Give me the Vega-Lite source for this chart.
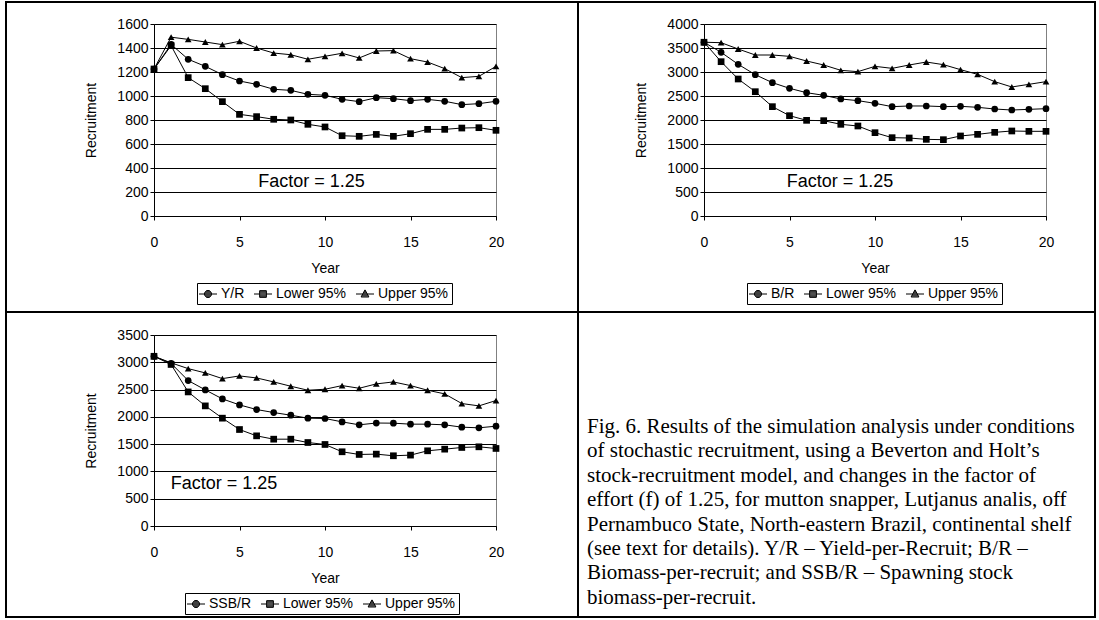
{
  "$schema": "https://vega.github.io/schema/vega-lite/v6.json",
  "padding": {"left": 5, "top": 1, "right": 0, "bottom": 0},
  "background": "white",
  "config": {
    "view": {"stroke": null},
    "font": "Liberation Sans",
    "axis": {"labelFont": "Liberation Sans", "labelFontSize": 14, "labelColor": "black", "titleFont": "Liberation Sans", "titleFontSize": 14, "titleFontWeight": "normal", "titleColor": "black", "domainColor": "black", "tickColor": "black", "gridColor": "black", "gridOpacity": 1, "tickSize": 4},
    "legend": {"title": null, "orient": "none", "direction": "horizontal", "symbolSize": 225, "symbolStrokeWidth": 1, "symbolFillColor": "black", "symbolStrokeColor": "black", "symbolOpacity": 1, "labelFontSize": 14, "labelFont": "Liberation Sans", "labelColor": "black", "strokeColor": "black", "fillColor": "white", "padding": 3, "columnPadding": 7, "labelOffset": 5}
  },
  "datasets": {
    "yr": [
      {"year":0,"series":"Y/R","value":1225},{"year":0,"series":"Lower 95%","value":1225},{"year":0,"series":"Upper 95%","value":1225},
      {"year":1,"series":"Y/R","value":1430},{"year":1,"series":"Lower 95%","value":1420},{"year":1,"series":"Upper 95%","value":1490},
      {"year":2,"series":"Y/R","value":1306},{"year":2,"series":"Lower 95%","value":1153},{"year":2,"series":"Upper 95%","value":1472},
      {"year":3,"series":"Y/R","value":1247},{"year":3,"series":"Lower 95%","value":1061},{"year":3,"series":"Upper 95%","value":1450},
      {"year":4,"series":"Y/R","value":1178},{"year":4,"series":"Lower 95%","value":953},{"year":4,"series":"Upper 95%","value":1428},
      {"year":5,"series":"Y/R","value":1125},{"year":5,"series":"Lower 95%","value":847},{"year":5,"series":"Upper 95%","value":1456},
      {"year":6,"series":"Y/R","value":1097},{"year":6,"series":"Lower 95%","value":828},{"year":6,"series":"Upper 95%","value":1400},
      {"year":7,"series":"Y/R","value":1056},{"year":7,"series":"Lower 95%","value":806},{"year":7,"series":"Upper 95%","value":1358},
      {"year":8,"series":"Y/R","value":1047},{"year":8,"series":"Lower 95%","value":800},{"year":8,"series":"Upper 95%","value":1344},
      {"year":9,"series":"Y/R","value":1014},{"year":9,"series":"Lower 95%","value":764},{"year":9,"series":"Upper 95%","value":1306},
      {"year":10,"series":"Y/R","value":1006},{"year":10,"series":"Lower 95%","value":742},{"year":10,"series":"Upper 95%","value":1331},
      {"year":11,"series":"Y/R","value":972},{"year":11,"series":"Lower 95%","value":669},{"year":11,"series":"Upper 95%","value":1356},
      {"year":12,"series":"Y/R","value":953},{"year":12,"series":"Lower 95%","value":664},{"year":12,"series":"Upper 95%","value":1317},
      {"year":13,"series":"Y/R","value":986},{"year":13,"series":"Lower 95%","value":680},{"year":13,"series":"Upper 95%","value":1375},
      {"year":14,"series":"Y/R","value":978},{"year":14,"series":"Lower 95%","value":664},{"year":14,"series":"Upper 95%","value":1378},
      {"year":15,"series":"Y/R","value":961},{"year":15,"series":"Lower 95%","value":686},{"year":15,"series":"Upper 95%","value":1311},
      {"year":16,"series":"Y/R","value":972},{"year":16,"series":"Lower 95%","value":722},{"year":16,"series":"Upper 95%","value":1283},
      {"year":17,"series":"Y/R","value":956},{"year":17,"series":"Lower 95%","value":722},{"year":17,"series":"Upper 95%","value":1228},
      {"year":18,"series":"Y/R","value":928},{"year":18,"series":"Lower 95%","value":733},{"year":18,"series":"Upper 95%","value":1153},
      {"year":19,"series":"Y/R","value":936},{"year":19,"series":"Lower 95%","value":736},{"year":19,"series":"Upper 95%","value":1164},
      {"year":20,"series":"Y/R","value":956},{"year":20,"series":"Lower 95%","value":714},{"year":20,"series":"Upper 95%","value":1247}
    ],
    "br": [
      {"year":0,"series":"B/R","value":3620},{"year":0,"series":"Lower 95%","value":3620},{"year":0,"series":"Upper 95%","value":3620},
      {"year":1,"series":"B/R","value":3410},{"year":1,"series":"Lower 95%","value":3215},{"year":1,"series":"Upper 95%","value":3611},
      {"year":2,"series":"B/R","value":3160},{"year":2,"series":"Lower 95%","value":2854},{"year":2,"series":"Upper 95%","value":3479},
      {"year":3,"series":"B/R","value":2944},{"year":3,"series":"Lower 95%","value":2590},{"year":3,"series":"Upper 95%","value":3354},
      {"year":4,"series":"B/R","value":2778},{"year":4,"series":"Lower 95%","value":2278},{"year":4,"series":"Upper 95%","value":3354},
      {"year":5,"series":"B/R","value":2660},{"year":5,"series":"Lower 95%","value":2090},{"year":5,"series":"Upper 95%","value":3326},
      {"year":6,"series":"B/R","value":2569},{"year":6,"series":"Lower 95%","value":1993},{"year":6,"series":"Upper 95%","value":3229},
      {"year":7,"series":"B/R","value":2514},{"year":7,"series":"Lower 95%","value":1986},{"year":7,"series":"Upper 95%","value":3146},
      {"year":8,"series":"B/R","value":2438},{"year":8,"series":"Lower 95%","value":1910},{"year":8,"series":"Upper 95%","value":3035},
      {"year":9,"series":"B/R","value":2403},{"year":9,"series":"Lower 95%","value":1875},{"year":9,"series":"Upper 95%","value":3007},
      {"year":10,"series":"B/R","value":2347},{"year":10,"series":"Lower 95%","value":1736},{"year":10,"series":"Upper 95%","value":3118},
      {"year":11,"series":"B/R","value":2278},{"year":11,"series":"Lower 95%","value":1632},{"year":11,"series":"Upper 95%","value":3076},
      {"year":12,"series":"B/R","value":2292},{"year":12,"series":"Lower 95%","value":1625},{"year":12,"series":"Upper 95%","value":3146},
      {"year":13,"series":"B/R","value":2292},{"year":13,"series":"Lower 95%","value":1597},{"year":13,"series":"Upper 95%","value":3208},
      {"year":14,"series":"B/R","value":2278},{"year":14,"series":"Lower 95%","value":1590},{"year":14,"series":"Upper 95%","value":3153},
      {"year":15,"series":"B/R","value":2285},{"year":15,"series":"Lower 95%","value":1667},{"year":15,"series":"Upper 95%","value":3049},
      {"year":16,"series":"B/R","value":2264},{"year":16,"series":"Lower 95%","value":1701},{"year":16,"series":"Upper 95%","value":2951},
      {"year":17,"series":"B/R","value":2229},{"year":17,"series":"Lower 95%","value":1743},{"year":17,"series":"Upper 95%","value":2799},
      {"year":18,"series":"B/R","value":2208},{"year":18,"series":"Lower 95%","value":1771},{"year":18,"series":"Upper 95%","value":2688},
      {"year":19,"series":"B/R","value":2222},{"year":19,"series":"Lower 95%","value":1764},{"year":19,"series":"Upper 95%","value":2743},
      {"year":20,"series":"B/R","value":2236},{"year":20,"series":"Lower 95%","value":1764},{"year":20,"series":"Upper 95%","value":2799}
    ],
    "ssb": [
      {"year":0,"series":"SSB/R","value":3110},{"year":0,"series":"Lower 95%","value":3110},{"year":0,"series":"Upper 95%","value":3110},
      {"year":1,"series":"SSB/R","value":2980},{"year":1,"series":"Lower 95%","value":2960},{"year":1,"series":"Upper 95%","value":2990},
      {"year":2,"series":"SSB/R","value":2665},{"year":2,"series":"Lower 95%","value":2457},{"year":2,"series":"Upper 95%","value":2884},
      {"year":3,"series":"SSB/R","value":2494},{"year":3,"series":"Lower 95%","value":2201},{"year":3,"series":"Upper 95%","value":2805},
      {"year":4,"series":"SSB/R","value":2329},{"year":4,"series":"Lower 95%","value":1976},{"year":4,"series":"Upper 95%","value":2701},
      {"year":5,"series":"SSB/R","value":2219},{"year":5,"series":"Lower 95%","value":1768},{"year":5,"series":"Upper 95%","value":2750},
      {"year":6,"series":"SSB/R","value":2134},{"year":6,"series":"Lower 95%","value":1652},{"year":6,"series":"Upper 95%","value":2713},
      {"year":7,"series":"SSB/R","value":2079},{"year":7,"series":"Lower 95%","value":1591},{"year":7,"series":"Upper 95%","value":2640},
      {"year":8,"series":"SSB/R","value":2030},{"year":8,"series":"Lower 95%","value":1591},{"year":8,"series":"Upper 95%","value":2561},
      {"year":9,"series":"SSB/R","value":1976},{"year":9,"series":"Lower 95%","value":1530},{"year":9,"series":"Upper 95%","value":2488},
      {"year":10,"series":"SSB/R","value":1970},{"year":10,"series":"Lower 95%","value":1494},{"year":10,"series":"Upper 95%","value":2506},
      {"year":11,"series":"SSB/R","value":1908},{"year":11,"series":"Lower 95%","value":1360},{"year":11,"series":"Upper 95%","value":2573},
      {"year":12,"series":"SSB/R","value":1854},{"year":12,"series":"Lower 95%","value":1311},{"year":12,"series":"Upper 95%","value":2524},
      {"year":13,"series":"SSB/R","value":1887},{"year":13,"series":"Lower 95%","value":1317},{"year":13,"series":"Upper 95%","value":2604},
      {"year":14,"series":"SSB/R","value":1884},{"year":14,"series":"Lower 95%","value":1287},{"year":14,"series":"Upper 95%","value":2640},
      {"year":15,"series":"SSB/R","value":1866},{"year":15,"series":"Lower 95%","value":1299},{"year":15,"series":"Upper 95%","value":2573},
      {"year":16,"series":"SSB/R","value":1866},{"year":16,"series":"Lower 95%","value":1378},{"year":16,"series":"Upper 95%","value":2488},
      {"year":17,"series":"SSB/R","value":1854},{"year":17,"series":"Lower 95%","value":1408},{"year":17,"series":"Upper 95%","value":2421},
      {"year":18,"series":"SSB/R","value":1811},{"year":18,"series":"Lower 95%","value":1439},{"year":18,"series":"Upper 95%","value":2244},
      {"year":19,"series":"SSB/R","value":1799},{"year":19,"series":"Lower 95%","value":1451},{"year":19,"series":"Upper 95%","value":2201},
      {"year":20,"series":"SSB/R","value":1829},{"year":20,"series":"Lower 95%","value":1421},{"year":20,"series":"Upper 95%","value":2299}
    ],
    "caption": [
      {"line":1,"pos":0,"text":"Fig. 6. Results of the simulation analysis under conditions"},
      {"line":2,"pos":0,"text":"of stochastic recruitment, using a Beverton and Holt’s"},
      {"line":3,"pos":0,"text":"stock-recruitment model, and changes in the factor of"},
      {"line":4,"pos":0,"text":"effort (f) of 1.25, for mutton snapper, Lutjanus analis, off"},
      {"line":5,"pos":0,"text":"Pernambuco State, North-eastern Brazil, continental shelf"},
      {"line":6,"pos":0,"text":"(see text for details). Y/R – Yield-per-Recruit; B/R –"},
      {"line":7,"pos":0,"text":"Biomass-per-recruit; and SSB/R – Spawning stock"},
      {"line":8,"pos":0,"text":"biomass-per-recruit."}
    ]
  },
  "data": {"values": []},
  "columns": 10,
  "spacing": 0,
  "bounds": "flush",
  "align": "each",
  "concat": [
    {"width": 2, "height": 2, "mark": "point", "view": {"fill": "black"}},
    {"width": 147, "height": 2, "mark": "point", "view": {"fill": "black"}},
    {"width": 342, "height": 2, "mark": "point", "view": {"fill": "black"}},
    {"width": 81, "height": 2, "mark": "point", "view": {"fill": "black"}},
    {"width": 2, "height": 2, "mark": "point", "view": {"fill": "black"}},
    {"width": 8, "height": 2, "mark": "point", "view": {"fill": "black"}},
    {"width": 117, "height": 2, "mark": "point", "view": {"fill": "black"}},
    {"width": 342, "height": 2, "mark": "point", "view": {"fill": "black"}},
    {"width": 48, "height": 2, "mark": "point", "view": {"fill": "black"}},
    {"width": 2, "height": 2, "mark": "point", "view": {"fill": "black"}},

    {"width": 2, "height": 21, "mark": "point", "view": {"fill": "black"}},
    {"width": 147, "height": 1, "mark": "point"},
    {"width": 342, "height": 1, "mark": "point"},
    {"width": 81, "height": 1, "mark": "point"},
    {"width": 2, "height": 21, "mark": "point", "view": {"fill": "black"}},
    {"width": 8, "height": 1, "mark": "point"},
    {"width": 117, "height": 1, "mark": "point"},
    {"width": 342, "height": 1, "mark": "point"},
    {"width": 48, "height": 1, "mark": "point"},
    {"width": 2, "height": 21, "mark": "point", "view": {"fill": "black"}},

    {"width": 2, "height": 192, "mark": "point", "view": {"fill": "black"}},
    {"width": 147, "height": 1, "mark": "point"},
    {
      "width": 342, "height": 192,
      "view": {"stroke": "#808080"},
      "data": {"name": "yr"},
      "encoding": {
        "x": {"field": "year", "type": "quantitative", "scale": {"domain": [0, 20], "nice": false, "zero": false}, "axis": {"values": [0, 5, 10, 15, 20], "title": "Year", "grid": false, "labelFlush": false, "labelPadding": 15, "titlePadding": 12}},
        "y": {"field": "value", "type": "quantitative", "scale": {"domain": [0, 1600], "nice": false}, "axis": {"values": [0, 200, 400, 600, 800, 1000, 1200, 1400, 1600], "format": "d", "title": "Recruitment", "grid": true, "labelPadding": 2, "titlePadding": 18}}
      },
      "layer": [
        {"mark": {"type": "line", "color": "black", "strokeWidth": 1}, "encoding": {"detail": {"field": "series"}}},
        {"mark": {"type": "point", "filled": true, "color": "black", "size": 45, "opacity": 1}, "encoding": {"shape": {"field": "series", "type": "nominal", "scale": {"domain": ["Y/R", "Lower 95%", "Upper 95%"], "range": ["circle", "square", "triangle-up"]}, "legend": null}}},
        {"mark": {"type": "point", "filled": false, "color": "black", "strokeWidth": 1, "opacity": 0}, "encoding": {"shape": {"field": "series", "type": "nominal", "scale": {"domain": ["Y/R", "Lower 95%", "Upper 95%"], "range": ["M-1.2,0H1.2M0.467,0A0.467,0.467,0,1,1,-0.467,0A0.467,0.467,0,1,1,0.467,0M-0.241,-0.4H0.241M-0.383,-0.267H0.383M-0.448,-0.133H0.448M-0.448,0.133H0.448M-0.383,0.267H0.383M-0.241,0.4H0.241", "M-1.2,0H1.2M-0.45,-0.45H0.45V0.45H-0.45ZM-0.45,-0.3H0.45M-0.45,-0.15H0.45M-0.45,0.15H0.45M-0.45,0.3H0.45", "M-1.2,0H1.2M0,-0.55L0.52,0.4H-0.52ZM-0.082,-0.4H0.082M-0.155,-0.267H0.155M-0.228,-0.133H0.228M-0.374,0.133H0.374M-0.447,0.267H0.447"]}, "legend": {"orient": "none", "legendX": 43, "legendY": 259}}}},
        {"data": {"values": [{"year": 6.1, "value": 283, "label": "Factor = 1.25"}]}, "mark": {"type": "text", "align": "left", "baseline": "middle", "fontSize": 18, "color": "black", "font": "Liberation Sans"}, "encoding": {"text": {"field": "label"}}}
      ],
      "resolve": {"scale": {"shape": "independent"}}
    },
    {"width": 81, "height": 1, "mark": "point"},
    {"width": 2, "height": 192, "mark": "point", "view": {"fill": "black"}},
    {"width": 8, "height": 1, "mark": "point"},
    {"width": 117, "height": 1, "mark": "point"},
    {
      "width": 342, "height": 192,
      "view": {"stroke": "#808080"},
      "data": {"name": "br"},
      "encoding": {
        "x": {"field": "year", "type": "quantitative", "scale": {"domain": [0, 20], "nice": false, "zero": false}, "axis": {"values": [0, 5, 10, 15, 20], "title": "Year", "grid": false, "labelFlush": false, "labelPadding": 15, "titlePadding": 12}},
        "y": {"field": "value", "type": "quantitative", "scale": {"domain": [0, 4000], "nice": false}, "axis": {"values": [0, 500, 1000, 1500, 2000, 2500, 3000, 3500, 4000], "format": "d", "title": "Recruitment", "grid": true, "labelPadding": 2, "titlePadding": 18}}
      },
      "layer": [
        {"mark": {"type": "line", "color": "black", "strokeWidth": 1}, "encoding": {"detail": {"field": "series"}}},
        {"mark": {"type": "point", "filled": true, "color": "black", "size": 45, "opacity": 1}, "encoding": {"shape": {"field": "series", "type": "nominal", "scale": {"domain": ["B/R", "Lower 95%", "Upper 95%"], "range": ["circle", "square", "triangle-up"]}, "legend": null}}},
        {"mark": {"type": "point", "filled": false, "color": "black", "strokeWidth": 1, "opacity": 0}, "encoding": {"shape": {"field": "series", "type": "nominal", "scale": {"domain": ["B/R", "Lower 95%", "Upper 95%"], "range": ["M-1.2,0H1.2M0.467,0A0.467,0.467,0,1,1,-0.467,0A0.467,0.467,0,1,1,0.467,0M-0.241,-0.4H0.241M-0.383,-0.267H0.383M-0.448,-0.133H0.448M-0.448,0.133H0.448M-0.383,0.267H0.383M-0.241,0.4H0.241", "M-1.2,0H1.2M-0.45,-0.45H0.45V0.45H-0.45ZM-0.45,-0.3H0.45M-0.45,-0.15H0.45M-0.45,0.15H0.45M-0.45,0.3H0.45", "M-1.2,0H1.2M0,-0.55L0.52,0.4H-0.52ZM-0.082,-0.4H0.082M-0.155,-0.267H0.155M-0.228,-0.133H0.228M-0.374,0.133H0.374M-0.447,0.267H0.447"]}, "legend": {"orient": "none", "legendX": 43, "legendY": 259}}}},
        {"data": {"values": [{"year": 4.84, "value": 708, "label": "Factor = 1.25"}]}, "mark": {"type": "text", "align": "left", "baseline": "middle", "fontSize": 18, "color": "black", "font": "Liberation Sans"}, "encoding": {"text": {"field": "label"}}}
      ],
      "resolve": {"scale": {"shape": "independent"}}
    },
    {"width": 48, "height": 1, "mark": "point"},
    {"width": 2, "height": 192, "mark": "point", "view": {"fill": "black"}},

    {"width": 2, "height": 95, "mark": "point", "view": {"fill": "black"}},
    {"width": 147, "height": 1, "mark": "point"},
    {"width": 342, "height": 1, "mark": "point"},
    {"width": 81, "height": 1, "mark": "point"},
    {"width": 2, "height": 95, "mark": "point", "view": {"fill": "black"}},
    {"width": 8, "height": 1, "mark": "point"},
    {"width": 117, "height": 1, "mark": "point"},
    {"width": 342, "height": 1, "mark": "point"},
    {"width": 48, "height": 1, "mark": "point"},
    {"width": 2, "height": 95, "mark": "point", "view": {"fill": "black"}},

    {"width": 2, "height": 2, "mark": "point", "view": {"fill": "black"}},
    {"width": 147, "height": 2, "mark": "point", "view": {"fill": "black"}},
    {"width": 342, "height": 2, "mark": "point", "view": {"fill": "black"}},
    {"width": 81, "height": 2, "mark": "point", "view": {"fill": "black"}},
    {"width": 2, "height": 2, "mark": "point", "view": {"fill": "black"}},
    {"width": 8, "height": 2, "mark": "point", "view": {"fill": "black"}},
    {"width": 117, "height": 2, "mark": "point", "view": {"fill": "black"}},
    {"width": 342, "height": 2, "mark": "point", "view": {"fill": "black"}},
    {"width": 48, "height": 2, "mark": "point", "view": {"fill": "black"}},
    {"width": 2, "height": 2, "mark": "point", "view": {"fill": "black"}},

    {"width": 2, "height": 22, "mark": "point", "view": {"fill": "black"}},
    {"width": 147, "height": 1, "mark": "point"},
    {"width": 342, "height": 1, "mark": "point"},
    {"width": 81, "height": 1, "mark": "point"},
    {"width": 2, "height": 22, "mark": "point", "view": {"fill": "black"}},
    {"width": 8, "height": 1, "mark": "point"},
    {"width": 117, "height": 1, "mark": "point"},
    {"width": 342, "height": 1, "mark": "point"},
    {"width": 48, "height": 1, "mark": "point"},
    {"width": 2, "height": 22, "mark": "point", "view": {"fill": "black"}},

    {"width": 2, "height": 191, "mark": "point", "view": {"fill": "black"}},
    {"width": 147, "height": 1, "mark": "point"},
    {
      "width": 342, "height": 191,
      "view": {"stroke": "#808080"},
      "data": {"name": "ssb"},
      "encoding": {
        "x": {"field": "year", "type": "quantitative", "scale": {"domain": [0, 20], "nice": false, "zero": false}, "axis": {"values": [0, 5, 10, 15, 20], "title": "Year", "grid": false, "labelFlush": false, "labelPadding": 15, "titlePadding": 12}},
        "y": {"field": "value", "type": "quantitative", "scale": {"domain": [0, 3500], "nice": false}, "axis": {"values": [0, 500, 1000, 1500, 2000, 2500, 3000, 3500], "format": "d", "title": "Recruitment", "grid": true, "labelPadding": 2, "titlePadding": 18}}
      },
      "layer": [
        {"mark": {"type": "line", "color": "black", "strokeWidth": 1}, "encoding": {"detail": {"field": "series"}}},
        {"mark": {"type": "point", "filled": true, "color": "black", "size": 45, "opacity": 1}, "encoding": {"shape": {"field": "series", "type": "nominal", "scale": {"domain": ["SSB/R", "Lower 95%", "Upper 95%"], "range": ["circle", "square", "triangle-up"]}, "legend": null}}},
        {"mark": {"type": "point", "filled": false, "color": "black", "strokeWidth": 1, "opacity": 0}, "encoding": {"shape": {"field": "series", "type": "nominal", "scale": {"domain": ["SSB/R", "Lower 95%", "Upper 95%"], "range": ["M-1.2,0H1.2M0.467,0A0.467,0.467,0,1,1,-0.467,0A0.467,0.467,0,1,1,0.467,0M-0.241,-0.4H0.241M-0.383,-0.267H0.383M-0.448,-0.133H0.448M-0.448,0.133H0.448M-0.383,0.267H0.383M-0.241,0.4H0.241", "M-1.2,0H1.2M-0.45,-0.45H0.45V0.45H-0.45ZM-0.45,-0.3H0.45M-0.45,-0.15H0.45M-0.45,0.15H0.45M-0.45,0.3H0.45", "M-1.2,0H1.2M0,-0.55L0.52,0.4H-0.52ZM-0.082,-0.4H0.082M-0.155,-0.267H0.155M-0.228,-0.133H0.228M-0.374,0.133H0.374M-0.447,0.267H0.447"]}, "legend": {"orient": "none", "legendX": 31, "legendY": 258}}}},
        {"data": {"values": [{"year": 0.98, "value": 770, "label": "Factor = 1.25"}]}, "mark": {"type": "text", "align": "left", "baseline": "middle", "fontSize": 18, "color": "black", "font": "Liberation Sans"}, "encoding": {"text": {"field": "label"}}}
      ],
      "resolve": {"scale": {"shape": "independent"}}
    },
    {"width": 81, "height": 1, "mark": "point"},
    {"width": 2, "height": 191, "mark": "point", "view": {"fill": "black"}},
    {"width": 8, "height": 1, "mark": "point"},
    {
      "width": 117, "height": 191,
      "data": {"name": "caption"},
      "mark": {"type": "text", "align": "left", "baseline": "middle", "font": "Liberation Serif", "fontSize": 21, "color": "black"},
      "encoding": {
        "x": {"field": "pos", "type": "quantitative", "scale": {"domain": [0, 1]}, "axis": null},
        "y": {"field": "line", "type": "quantitative", "scale": {"domain": [-2.77, 5.06], "reverse": true, "nice": false, "zero": false}, "axis": null},
        "text": {"field": "text"}
      }
    },
    {"width": 342, "height": 1, "mark": "point"},
    {"width": 48, "height": 1, "mark": "point"},
    {"width": 2, "height": 191, "mark": "point", "view": {"fill": "black"}},

    {"width": 2, "height": 90, "mark": "point", "view": {"fill": "black"}},
    {"width": 147, "height": 1, "mark": "point"},
    {"width": 342, "height": 1, "mark": "point"},
    {"width": 81, "height": 1, "mark": "point"},
    {"width": 2, "height": 90, "mark": "point", "view": {"fill": "black"}},
    {"width": 8, "height": 1, "mark": "point"},
    {"width": 117, "height": 1, "mark": "point"},
    {"width": 342, "height": 1, "mark": "point"},
    {"width": 48, "height": 1, "mark": "point"},
    {"width": 2, "height": 90, "mark": "point", "view": {"fill": "black"}},

    {"width": 2, "height": 2, "mark": "point", "view": {"fill": "black"}},
    {"width": 147, "height": 2, "mark": "point", "view": {"fill": "black"}},
    {"width": 342, "height": 2, "mark": "point", "view": {"fill": "black"}},
    {"width": 81, "height": 2, "mark": "point", "view": {"fill": "black"}},
    {"width": 2, "height": 2, "mark": "point", "view": {"fill": "black"}},
    {"width": 8, "height": 2, "mark": "point", "view": {"fill": "black"}},
    {"width": 117, "height": 2, "mark": "point", "view": {"fill": "black"}},
    {"width": 342, "height": 2, "mark": "point", "view": {"fill": "black"}},
    {"width": 48, "height": 2, "mark": "point", "view": {"fill": "black"}},
    {"width": 2, "height": 2, "mark": "point", "view": {"fill": "black"}}
  ]
}
